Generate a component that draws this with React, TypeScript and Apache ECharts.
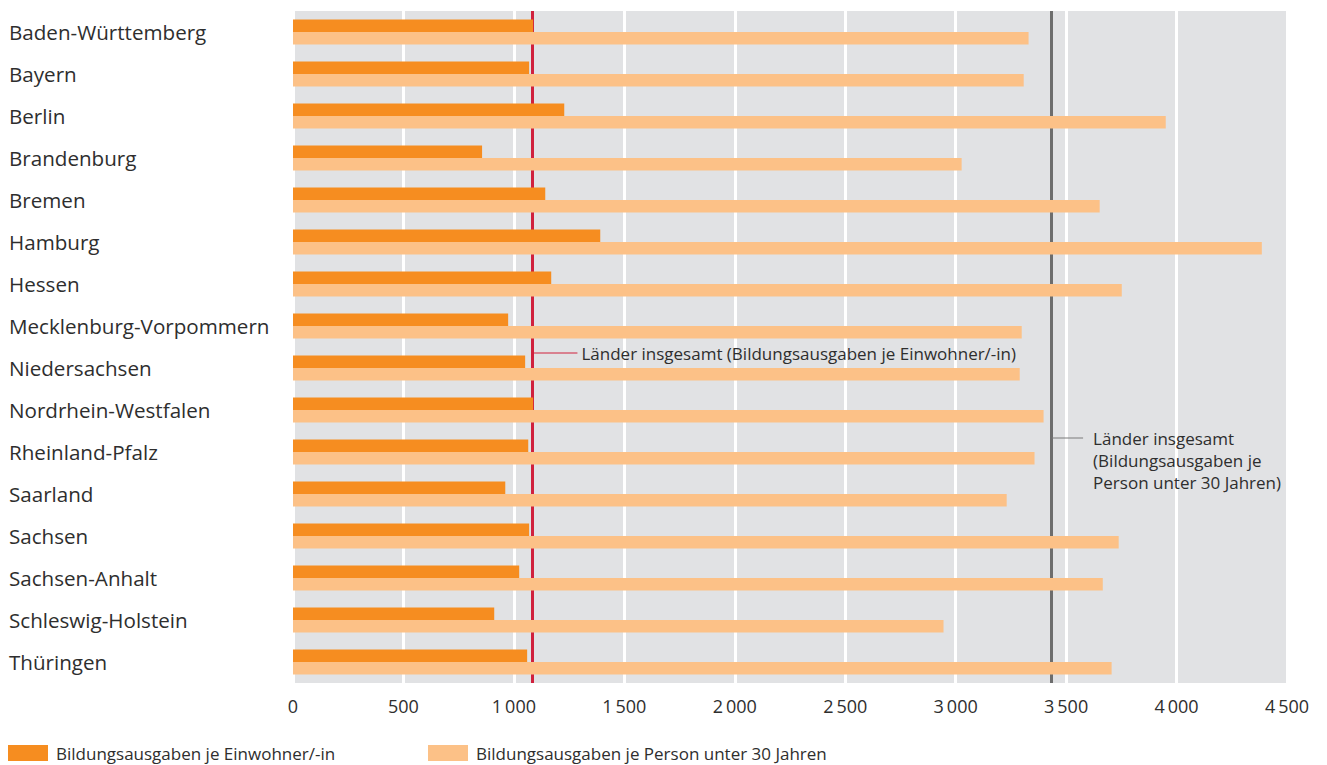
import React, { useEffect, useRef } from "react";
import * as echarts from "echarts";

const categories = [
  "Baden-Württemberg",
  "Bayern",
  "Berlin",
  "Brandenburg",
  "Bremen",
  "Hamburg",
  "Hessen",
  "Mecklenburg-Vorpommern",
  "Niedersachsen",
  "Nordrhein-Westfalen",
  "Rheinland-Pfalz",
  "Saarland",
  "Sachsen",
  "Sachsen-Anhalt",
  "Schleswig-Holstein",
  "Thüringen",
];

const seriesNames = [
  "Bildungsausgaben je Einwohner/-in",
  "Bildungsausgaben je Person unter 30 Jahren",
];

const perResident = [1087, 1069, 1228, 856, 1142, 1391, 1169, 974, 1051, 1087, 1065, 961, 1069, 1024, 911, 1060];
const perUnder30 = [3330, 3308, 3951, 3027, 3652, 4386, 3752, 3299, 3290, 3398, 3357, 3231, 3738, 3666, 2945, 3706];

const totalPerResident = 1084;
const totalPerUnder30 = 3432;

const annotationResident = ["Länder insgesamt (Bildungsausgaben je Einwohner/-in)"];
const annotationUnder30 = ["Länder insgesamt", "(Bildungsausgaben je", "Person unter 30 Jahren)"];

const FONT = "'Open Sans', 'Noto Sans', sans-serif";
const TEXT = "#2e2e2e";
const RED = "#d0213d";

function fmt(v: number): string {
  const s = String(Math.round(v));
  if (s.length <= 3) return s;
  return s.slice(0, s.length - 3) + "\u2009" + s.slice(s.length - 3);
}

export default function App() {
  const ref = useRef<HTMLDivElement>(null);
  useEffect(() => {
    if (!ref.current) return;
    const chart = echarts.init(ref.current, undefined, { renderer: "svg" });
    const legendBase = {
      top: 743,
      itemWidth: 40,
      itemHeight: 16,
      padding: 0,
      icon: "rect",
      textStyle: { fontSize: 17, color: TEXT, fontFamily: FONT, padding: [0, 0, 0, 3], lineHeight: 20 },
      selectedMode: false,
    };
    chart.setOption({
      animation: false,
      textStyle: { fontFamily: FONT },
      grid: {
        left: 293,
        right: 40,
        top: 11,
        bottom: 82,
        show: true,
        backgroundColor: "#e1e2e4",
        borderWidth: 0,
      },
      legend: [
        { ...legendBase, data: [seriesNames[0]], left: 8 },
        { ...legendBase, data: [seriesNames[1]], left: 428 },
      ],
      xAxis: {
        type: "value",
        min: 0,
        max: 4500,
        interval: 500,
        axisLine: { show: false },
        axisTick: { show: false },
        axisLabel: {
          formatter: (v: number) => fmt(v),
          fontSize: 18,
          color: TEXT,
          margin: 14,
          fontFamily: FONT,
        },
        splitLine: { show: true, lineStyle: { color: "#ffffff", width: 3 } },
      },
      yAxis: {
        type: "category",
        data: categories,
        inverse: true,
        axisLine: { show: false },
        axisTick: { show: false },
        splitLine: { show: false },
        axisLabel: {
          align: "left",
          margin: 284,
          fontSize: 20.6,
          color: TEXT,
          fontFamily: FONT,
        },
      },
      series: [
        {
          name: seriesNames[0],
          type: "bar",
          data: perResident,
          itemStyle: { color: "#f68d20" },
          barGap: "0%",
          barCategoryGap: "40%",
          z: 3,
          markLine: {
            silent: true,
            symbol: "none",
            z: 1,
            label: { show: false },
            lineStyle: { color: RED, width: 3, type: "solid" },
            data: [{ xAxis: totalPerResident }],
          },
        },
        {
          name: seriesNames[1],
          type: "bar",
          data: perUnder30,
          itemStyle: { color: "#fcc187" },
          barGap: "0%",
          barCategoryGap: "40%",
          z: 3,
          markLine: {
            silent: true,
            symbol: "none",
            z: 1,
            label: { show: false },
            lineStyle: { color: "#6d6d6d", width: 3, type: "solid" },
            data: [{ xAxis: totalPerUnder30 }],
          },
        },
      ],
    });

    const p1 = chart.convertToPixel({ gridIndex: 0 }, [totalPerResident, categories[8]]) as number[];
    const p2 = chart.convertToPixel({ gridIndex: 0 }, [totalPerUnder30, categories[10]]) as number[];
    const y1 = p1[1] - 15;
    const y2 = p2[1] - 14;
    chart.setOption({
      graphic: [
        {
          type: "line",
          z: 10,
          shape: { x1: p1[0] + 1, y1: y1, x2: p1[0] + 45, y2: y1 },
          style: { stroke: RED, lineWidth: 1 },
          silent: true,
        },
        {
          type: "text",
          z: 10,
          x: p1[0] + 49,
          y: y1,
          style: {
            text: annotationResident.join("\n"),
            fill: TEXT,
            fontSize: 17,
            fontFamily: FONT,
            verticalAlign: "middle",
            align: "left",
          },
          silent: true,
        },
        {
          type: "line",
          z: 10,
          shape: { x1: p2[0] + 1, y1: y2, x2: p2[0] + 32, y2: y2 },
          style: { stroke: "#7a7a7a", lineWidth: 1 },
          silent: true,
        },
        {
          type: "text",
          z: 10,
          x: p2[0] + 42,
          y: y2 - 11,
          style: {
            text: annotationUnder30.join("\n"),
            fill: TEXT,
            fontSize: 17,
            lineHeight: 22,
            fontFamily: FONT,
            verticalAlign: "top",
            align: "left",
          },
          silent: true,
        },
      ],
    });

    return () => chart.dispose();
  }, []);
  return (
    <div
      ref={ref}
      style={{ position: "fixed", left: 0, top: 0, width: 1327, height: 765, background: "#fff" }}
    />
  );
}
